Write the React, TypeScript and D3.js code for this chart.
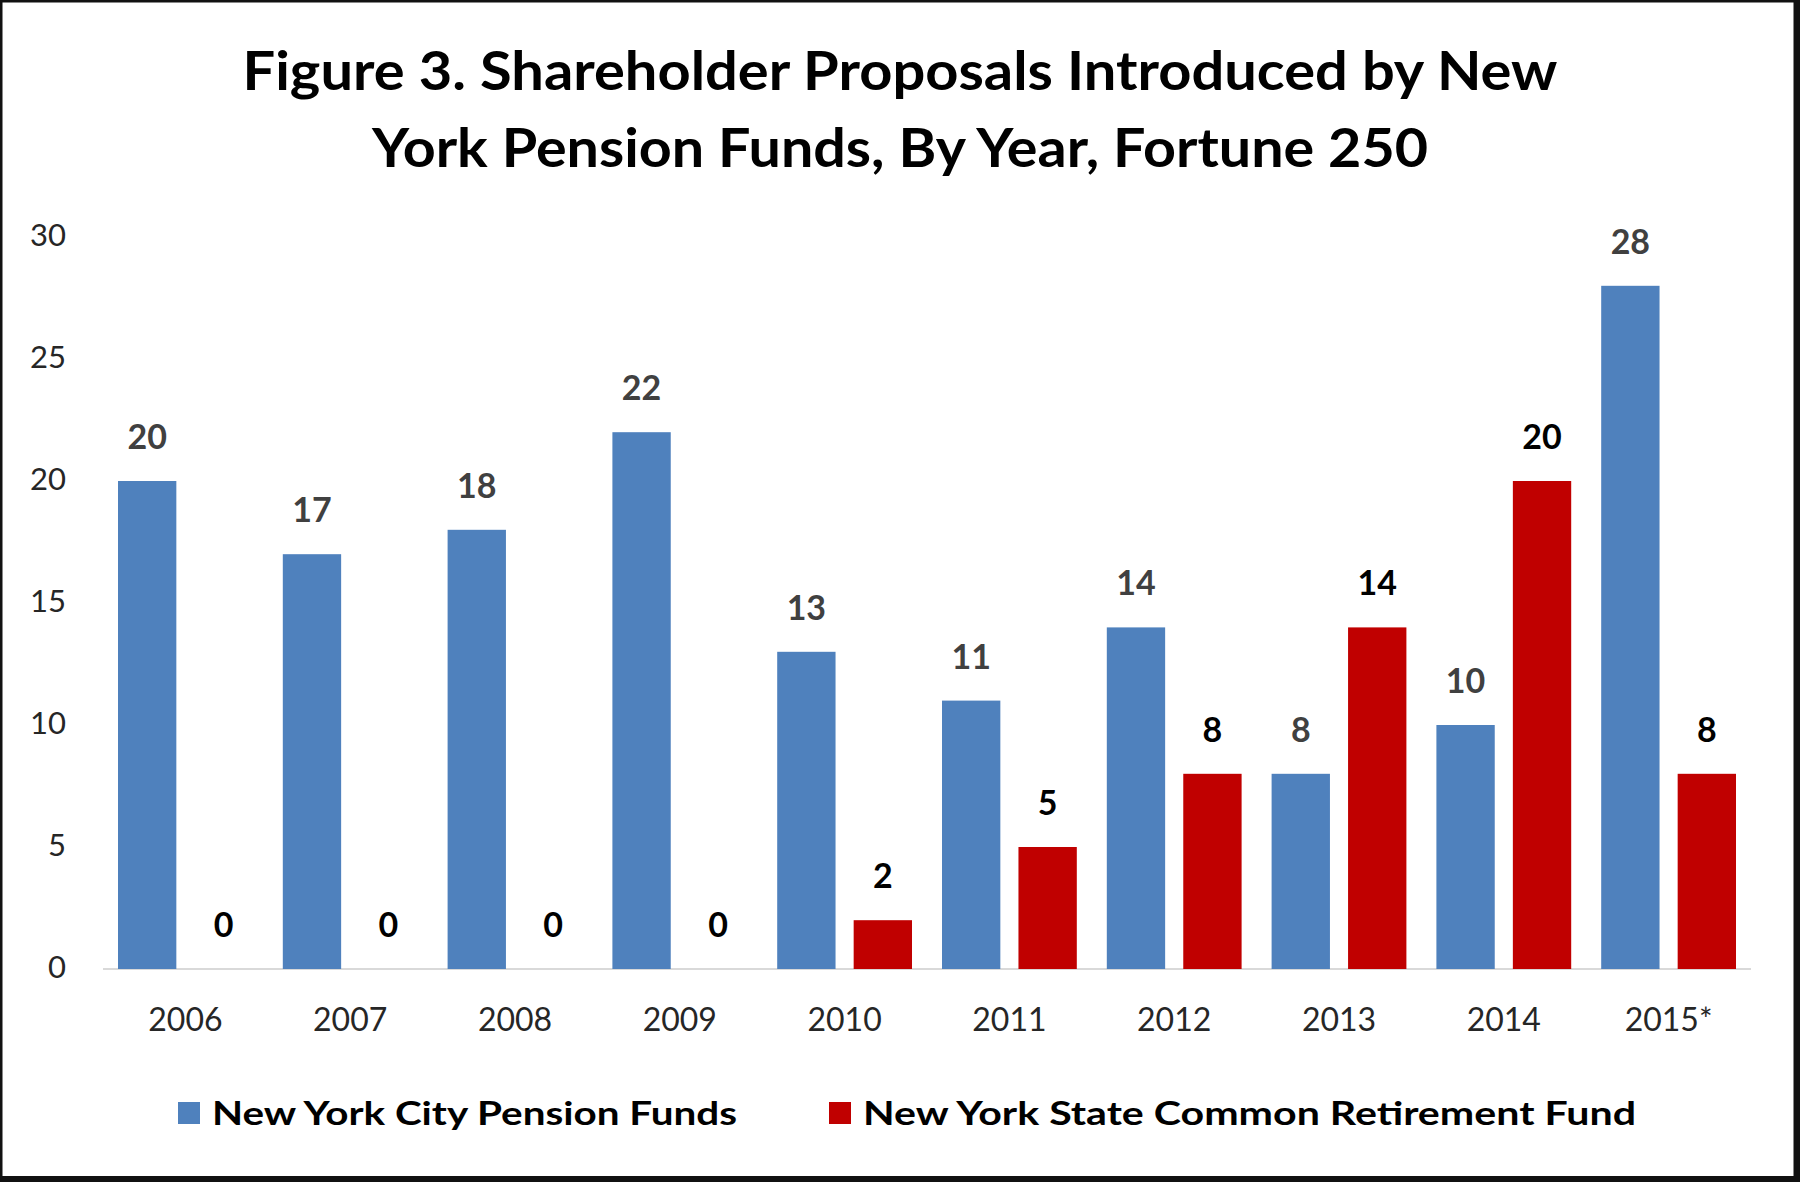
import React from 'react';
import * as d3 from 'd3';

const years = ['2006', '2007', '2008', '2009', '2010', '2011', '2012', '2013', '2014', '2015*'];
const cityFunds = [20, 17, 18, 22, 13, 11, 14, 8, 10, 28];
const stateFund = [0, 0, 0, 0, 2, 5, 8, 14, 20, 8];
const seriesNames = ['New York City Pension Funds', 'New York State Common Retirement Fund'];
const seriesColors = ['#4F81BD', '#C00000'];
const yTicks = [0, 5, 10, 15, 20, 25, 30];
const titleLines = [
  'Figure 3. Shareholder Proposals Introduced by New',
  'York Pension Funds, By Year, Fortune 250',
];

const W = 1800;
const H = 1182;
const FONT = 'Lato, "Open Sans", sans-serif';

const titleWidths = [1315, 1056];
const legendX = [178, 829];
const legendWidths = [525, 773];

export default function App() {
  const x = d3.scaleBand<string>().domain(years).range([103, 1751]);
  const xSeries = d3
    .scaleBand<number>()
    .domain([0, 1])
    .range([15, x.bandwidth() - 15])
    .paddingInner(0.237);
  const y = d3.scaleLinear().domain([0, 30]).range([969, 237]);

  const series = [cityFunds, stateFund];

  return (
    <svg
      width={W}
      height={H}
      style={{ position: 'absolute', left: 0, top: 0, background: '#fff' }}
      fontFamily={FONT}
    >
      <rect x={0} y={0} width={W} height={H} fill="#fff" />

      {/* title */}
      {titleLines.map((t, i) => (
        <text
          key={t}
          x={900}
          y={90 + i * 77}
          textAnchor="middle"
          fontSize={54}
          fontWeight="bold"
          fill="#000"
          textLength={titleWidths[i]}
          lengthAdjust="spacingAndGlyphs"
        >
          {t}
        </text>
      ))}

      {/* y axis labels */}
      {yTicks.map(t => (
        <text
          key={t}
          x={66}
          y={y(t)}
          dy="0.28em"
          textAnchor="end"
          fontSize={31}
          fill="#262626"
        >
          {t}
        </text>
      ))}

      {/* baseline */}
      <line x1={103} x2={1751} y1={y(0)} y2={y(0)} stroke="#D9D9D9" strokeWidth={2} />

      {/* bars */}
      {series.map((vals, s) =>
        years.map((yr, i) => {
          const bx = (x(yr) ?? 0) + (xSeries(s) ?? 0);
          return (
            <g key={`${s}-${yr}`}>
              {vals[i] > 0 && (
                <rect
                  x={bx}
                  y={y(vals[i])}
                  width={xSeries.bandwidth()}
                  height={y(0) - y(vals[i])}
                  fill={seriesColors[s]}
                />
              )}
              <text
                x={bx + xSeries.bandwidth() / 2}
                y={y(vals[i]) - 32}
                textAnchor="middle"
                fontSize={34}
                fontWeight="bold"
                fill={s === 0 ? '#404040' : '#000'}
              >
                {vals[i]}
              </text>
            </g>
          );
        })
      )}

      {/* category labels */}
      {years.map(yr => (
        <text
          key={yr}
          x={(x(yr) ?? 0) + x.bandwidth() / 2}
          y={1031}
          textAnchor="middle"
          fontSize={32}
          fill="#262626"
        >
          {yr}
        </text>
      ))}

      {/* legend */}
      {seriesNames.map((name, s) => (
        <g key={name}>
          <rect x={legendX[s]} y={1102} width={22} height={22} fill={seriesColors[s]} />
          <text
            x={legendX[s] + 34}
            y={1125}
            fontSize={33}
            fontWeight="bold"
            fill="#000"
            textLength={legendWidths[s]}
            lengthAdjust="spacingAndGlyphs"
          >
            {name}
          </text>
        </g>
      ))}

      {/* frame */}
      <rect x={1} y={1} width={W - 4} height={H - 4} fill="none" stroke="#111" strokeWidth={3} />
      <line x1={W - 3} x2={W - 3} y1={0} y2={H} stroke="#111" strokeWidth={7} />
      <line x1={0} x2={W} y1={H - 3} y2={H - 3} stroke="#111" strokeWidth={6} />
    </svg>
  );
}
